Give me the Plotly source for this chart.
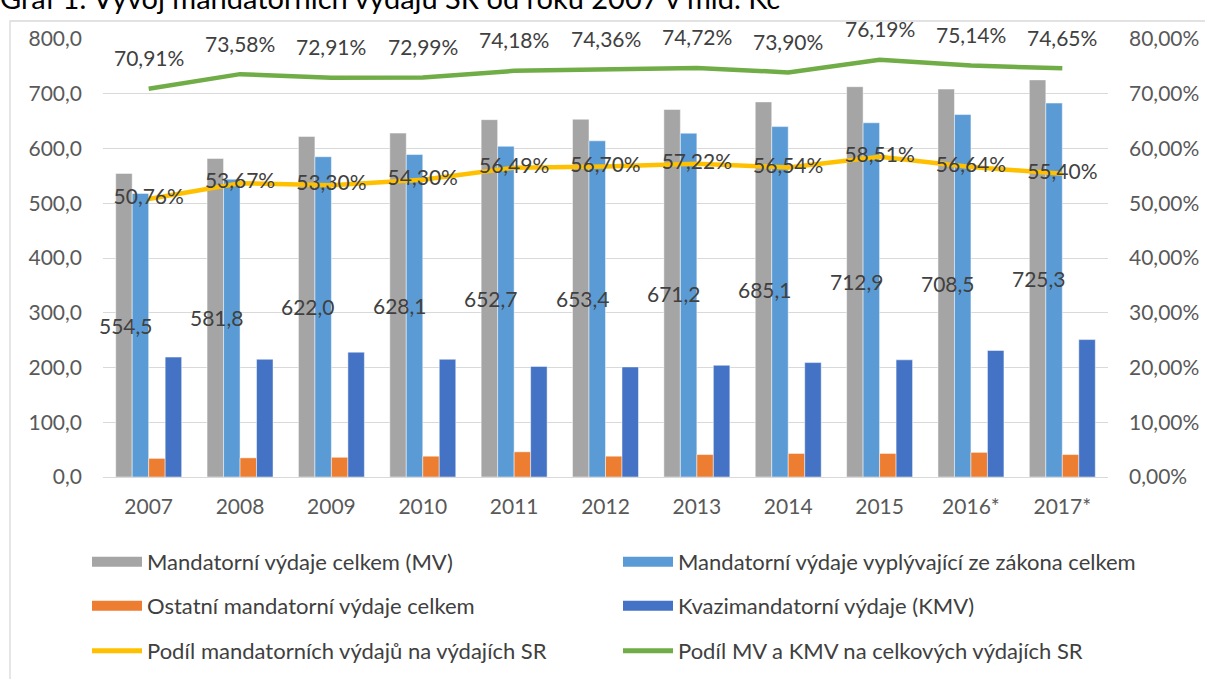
import plotly.graph_objects as go

# ---------------- data ----------------
years = ["2007", "2008", "2009", "2010", "2011", "2012", "2013", "2014", "2015", "2016*", "2017*"]
mv_total = [554.5, 581.8, 622.0, 628.1, 652.7, 653.4, 671.2, 685.1, 712.9, 708.5, 725.3]
mv_law = [518, 544, 585, 589, 604, 614, 628, 640, 647, 662, 683]
mv_other = [34, 35, 36, 38, 46, 38, 41, 43, 43, 45, 41]
kmv = [219, 215, 228, 215, 202, 201, 204, 209, 214, 231, 251]
share_mv = [50.76, 53.67, 53.30, 54.30, 56.49, 56.70, 57.22, 56.54, 58.51, 56.64, 55.40]
share_mv_kmv = [70.91, 73.58, 72.91, 72.99, 74.18, 74.36, 74.72, 73.90, 76.19, 75.14, 74.65]

names = [
    "Mandatorní výdaje celkem (MV)",
    "Mandatorní výdaje vyplývající ze zákona celkem",
    "Ostatní mandatorní výdaje celkem",
    "Kvazimandatorní výdaje (KMV)",
    "Podíl mandatorních výdajů na výdajích SR",
    "Podíl MV a KMV na celkových výdajích SR",
]
title_text = "Graf 1: Vývoj mandatorních výdajů SR od roku 2007 v mld. Kč"

# ---------------- style ----------------
FONT = "Lato"
TXT = "#404040"
TICK = "#595959"
C_GRAY, C_LBLUE, C_ORANGE, C_DBLUE = "#A5A5A5", "#5B9BD5", "#ED7D31", "#4472C4"
C_YELLOW, C_GREEN = "#FFC000", "#70AD47"

W, H = 1205, 679
ML, MR, MT, MB = 103, 97, 39, 202
PW, PH = W - ML - MR, H - MT - MB


def px_x(p):
    return (p - ML) / PW


def px_y(p):
    return 1 - (p - MT) / PH


def fmt_num(v, d):
    return f"{v:.{d}f}".replace(".", ",")


fig = go.Figure()

bar_series = [(mv_total, C_GRAY), (mv_law, C_LBLUE), (mv_other, C_ORANGE), (kmv, C_DBLUE)]
for i, (vals, col) in enumerate(bar_series):
    fig.add_trace(go.Bar(
        x=years, y=vals, name=names[i],
        marker=dict(color=col, line=dict(color="rgba(255,255,255,0.6)", width=0.8)),
        showlegend=False, hoverinfo="x+y",
    ))

fig.add_trace(go.Scatter(
    x=years, y=[v / 100 for v in share_mv], yaxis="y2", mode="lines+text",
    line=dict(color=C_YELLOW, width=4.5), name=names[4], showlegend=False,
    text=[fmt_num(v, 2) + "%" for v in share_mv], textposition="middle center",
    textfont=dict(family=FONT, size=21, color=TXT),
))
fig.add_trace(go.Scatter(
    x=years, y=[v / 100 for v in share_mv_kmv], yaxis="y2", mode="lines",
    line=dict(color=C_GREEN, width=4.5), name=names[5], showlegend=False,
))

# legend-only entries (three rows of two)
legend_specs = [
    (names[0], C_GRAY, 16, "legend"), (names[1], C_LBLUE, 16, "legend"),
    (names[2], C_ORANGE, 16, "legend2"), (names[3], C_DBLUE, 16, "legend2"),
    (names[4], C_YELLOW, 5, "legend3"), (names[5], C_GREEN, 5, "legend3"),
]
for nm, col, lw, lg in legend_specs:
    fig.add_trace(go.Scatter(
        x=[None], y=[None], mode="lines", name=nm, legend=lg,
        line=dict(color=col, width=lw), hoverinfo="skip",
    ))

annotations = []
# labels of total mandatory expenditure (centre of the grey bar)
for i, v in enumerate(mv_total):
    annotations.append(dict(
        x=i, y=v / 2, xref="x", yref="y", text=fmt_num(v, 1), showarrow=False,
        xshift=-23, font=dict(family=FONT, size=21, color=TXT),
    ))
# labels of MV+KMV share (above the green line)
for i, v in enumerate(share_mv_kmv):
    annotations.append(dict(
        x=i, y=v / 100, xref="x", yref="y2", text=fmt_num(v, 2) + "%", showarrow=False,
        yshift=31, font=dict(family=FONT, size=21, color=TXT),
    ))
# cropped title
annotations.append(dict(
    x=px_x(-2), y=px_y(17), xref="paper", yref="paper", xanchor="left", yanchor="bottom",
    text=title_text, showarrow=False, font=dict(family=FONT, size=29, color="#000000"),
))

leg_common = dict(orientation="h", xanchor="left", yanchor="middle", entrywidth=466,
                  entrywidthmode="pixels", font=dict(family=FONT, size=22, color=TXT),
                  bgcolor="rgba(0,0,0,0)", itemwidth=50, traceorder="normal")

fig.update_layout(
    width=W, height=H,
    margin=dict(l=ML, r=MR, t=MT, b=MB, autoexpand=False),
    paper_bgcolor="white", plot_bgcolor="white",
    separators=", ",
    barmode="group", bargap=0.278, bargroupgap=0,
    font=dict(family=FONT, size=21, color=TICK),
    xaxis=dict(type="category", categoryorder="array", categoryarray=years,
               range=[-0.5, len(years) - 0.5], autorange=False,
               showgrid=False, showline=True, linecolor="#D9D9D9", linewidth=1.3,
               ticks="", ticklabelstandoff=11, tickfont=dict(size=21, color=TICK)),
    yaxis=dict(range=[0, 800], autorange=False, dtick=100, tickformat=".1f", showgrid=True,
               gridcolor="#D9D9D9", gridwidth=1.3, zeroline=False, showline=False, ticks="",
               ticklabelstandoff=20, tickfont=dict(size=21, color=TICK)),
    yaxis2=dict(range=[0, 0.8], autorange=False, dtick=0.1, tickformat=".2%", overlaying="y",
                side="right", showgrid=False, zeroline=False, showline=False, ticks="",
                ticklabelstandoff=20, tickfont=dict(size=21, color=TICK)),
    legend=dict(x=px_x(87), y=px_y(562), **leg_common),
    legend2=dict(x=px_x(87), y=px_y(606), **leg_common),
    legend3=dict(x=px_x(87), y=px_y(651), **leg_common),
    annotations=annotations,
    shapes=[dict(type="rect", xref="paper", yref="paper", x0=px_x(10), y0=px_y(21), x1=px_x(1260),
                 y1=px_y(800), line=dict(color="#D9D9D9", width=1.3), fillcolor="rgba(0,0,0,0)",
                 layer="below")],
    hovermode="closest",
)

fig.write_html("out.html", config={"displayModeBar": False},
               post_script="document.body.style.margin='0';document.body.style.overflow='hidden';")
